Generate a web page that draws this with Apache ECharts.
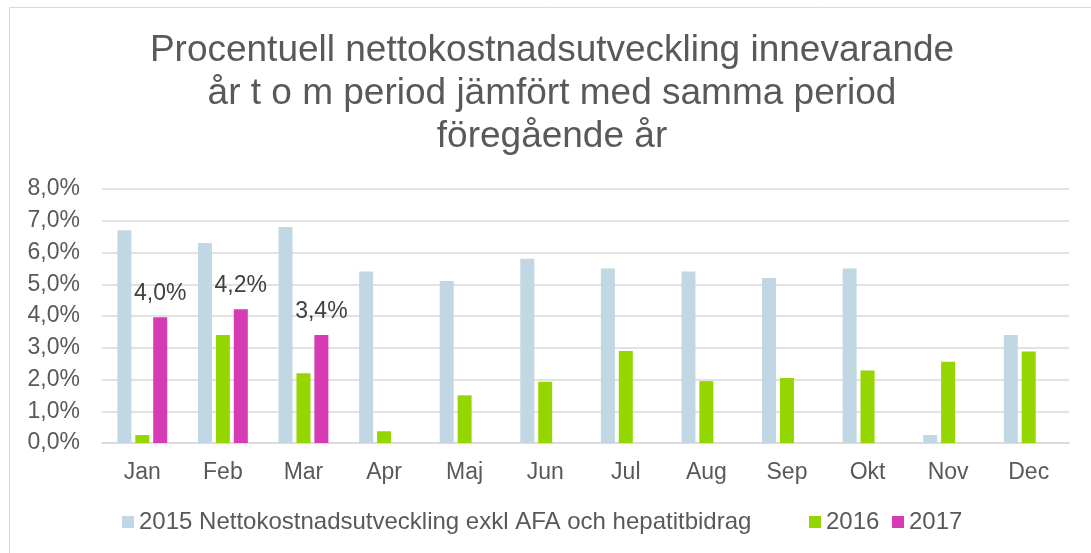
<!DOCTYPE html>
<html>
<head>
<meta charset="utf-8">
<script src="https://cdn.jsdelivr.net/npm/echarts@6/dist/echarts.min.js"></script>
<style>
  html, body { margin: 0; padding: 0; background: #fff; }
  #main { width: 1091px; height: 553px; }
</style>
</head>
<body>
<div id="main"></div>
<script>
var months = ['Jan', 'Feb', 'Mar', 'Apr', 'Maj', 'Jun', 'Jul', 'Aug', 'Sep', 'Okt', 'Nov', 'Dec'];
var name2015 = '2015 Nettokostnadsutveckling exkl AFA och hepatitbidrag';
var name2016 = '2016';
var name2017 = '2017';
// procent
var data2015 = [6.7, 6.3, 6.8, 5.4, 5.1, 5.8, 5.5, 5.4, 5.2, 5.5, 0.25, 3.4];
var data2016 = [0.25, 3.4, 2.2, 0.37, 1.5, 1.93, 2.9, 1.95, 2.05, 2.28, 2.56, 2.88];
var data2017 = [3.96, 4.21, 3.4, null, null, null, null, null, null, null, null, null];
var titleLines = [
    'Procentuell nettokostnadsutveckling innevarande',
    'år t o m period jämfört med samma period',
    'föregående år'
];

var fontName = '"Liberation Sans", Arial, sans-serif';
var textColor = '#595959';

function pct(v) {
    return v.toFixed(1).replace('.', ',') + '%';
}

var legendText = { fontFamily: fontName, fontSize: 24, color: textColor };

var myChart = echarts.init(document.getElementById('main'));
var option = {
    backgroundColor: '#fff',
    animation: false,
    textStyle: { fontFamily: fontName },
    title: {
        text: titleLines.join('\n'),
        left: 552,
        textAlign: 'center',
        top: 29,
        padding: 0,
        textStyle: {
            fontFamily: fontName,
            fontSize: 37,
            fontWeight: 'normal',
            lineHeight: 43,
            color: textColor
        }
    },
    graphic: [{
        type: 'rect',
        shape: { x: 9.5, y: 7.5, width: 1200, height: 600 },
        style: { fill: 'none', stroke: '#D9D9D9', lineWidth: 1 },
        silent: true,
        z: -1
    }],
    legend: [
        {
            data: [name2015], left: 122, top: 510, padding: 0,
            itemWidth: 12, itemHeight: 12, icon: 'rect',
            textStyle: legendText
        },
        {
            data: [name2016], left: 809, top: 510, padding: 0,
            itemWidth: 12, itemHeight: 12, icon: 'rect',
            textStyle: legendText
        },
        {
            data: [name2017], left: 892, top: 510, padding: 0,
            itemWidth: 12, itemHeight: 12, icon: 'rect',
            textStyle: legendText
        }
    ],
    grid: { left: 102, right: 22, top: 189, bottom: 110 },
    xAxis: {
        type: 'category',
        data: months,
        axisLine: { lineStyle: { color: '#D9D9D9', width: 1.5 } },
        axisTick: { show: false },
        axisLabel: { fontFamily: fontName, fontSize: 23, color: textColor, margin: 18 }
    },
    yAxis: {
        type: 'value',
        min: 0,
        max: 8,
        interval: 1,
        axisLine: { show: false },
        axisTick: { show: false },
        splitLine: { lineStyle: { color: '#D9D9D9', width: 1.5 } },
        axisLabel: {
            fontFamily: fontName, fontSize: 23, color: textColor, margin: 22,
            formatter: function (v) { return pct(v); }
        }
    },
    series: [
        {
            name: name2015, type: 'bar', data: data2015,
            barWidth: 14, barGap: '28%',
            itemStyle: { color: '#C1D7E3' }
        },
        {
            name: name2016, type: 'bar', data: data2016,
            barWidth: 14, barGap: '28%',
            itemStyle: { color: '#96D600' }
        },
        {
            name: name2017, type: 'bar', data: data2017,
            barWidth: 14, barGap: '28%',
            itemStyle: { color: '#D63AB4' },
            label: {
                show: true, position: 'top', distance: 12,
                fontFamily: fontName, fontSize: 23, color: '#404040',
                formatter: function (p) { return pct(p.value); }
            }
        }
    ]
};
myChart.setOption(option);
</script>
</body>
</html>
